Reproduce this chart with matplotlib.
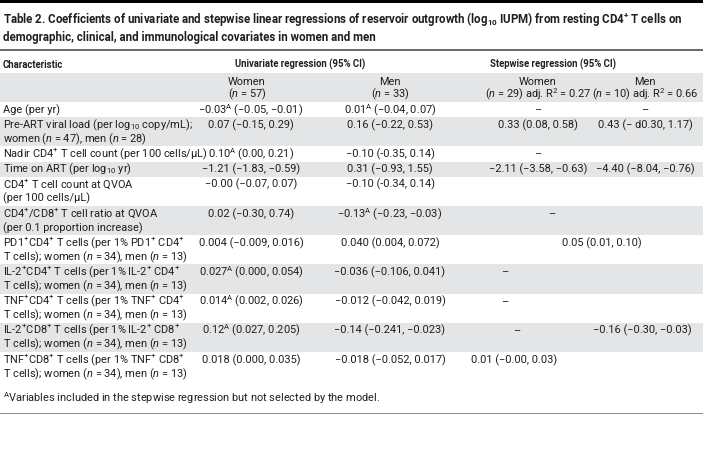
import matplotlib
matplotlib.use("Agg")
import matplotlib.pyplot as plt
import matplotlib.font_manager as fm
from matplotlib.patches import Rectangle

# ---------------- data ----------------
title_lines = [
    r"Table 2. Coefficients of univariate and stepwise linear regressions of reservoir outgrowth (log$_{\mathbf{10}}$ IUPM) from resting CD4$^{\mathbf{+}}$ T cells on",
    "demographic, clinical, and immunological covariates in women and men",
]
header_char = "Characteristic"
header_groups = ["Univariate regression (95% CI)", "Stepwise regression (95% CI)"]
sub_headers = [
    ["Women", "($n$ = 57)"],
    ["Men", "($n$ = 33)"],
    ["Women", r"($n$ = 29) adj. R$^{2}$ = 0.27"],
    ["Men", r"($n$ = 10) adj. R$^{2}$ = 0.66"],
]
characteristics = [
    "Age (per yr)",
    "Pre-ART viral load (per log$_{10}$ copy/mL);\nwomen ($n$ = 47), men ($n$ = 28)",
    "Nadir CD4$^{+}$ T cell count (per 100 cells/μL)",
    "Time on ART (per log$_{10}$ yr)",
    "CD4$^{+}$ T cell count at QVOA\n(per 100 cells/μL)",
    "CD4$^{+}$/CD8$^{+}$ T cell ratio at QVOA\n(per 0.1 proportion increase)",
    "PD1$^{+}$CD4$^{+}$ T cells (per 1% PD1$^{+}$ CD4$^{+}$\nT cells); women ($n$ = 34), men ($n$ = 13)",
    "IL-2$^{+}$CD4$^{+}$ T cells (per 1% IL-2$^{+}$ CD4$^{+}$\nT cells); women ($n$ = 34), men ($n$ = 13)",
    "TNF$^{+}$CD4$^{+}$ T cells (per 1% TNF$^{+}$ CD4$^{+}$\nT cells); women ($n$ = 34), men ($n$ = 13)",
    "IL-2$^{+}$CD8$^{+}$ T cells (per 1% IL-2$^{+}$ CD8$^{+}$\nT cells); women ($n$ = 34), men ($n$ = 13)",
    "TNF$^{+}$CD8$^{+}$ T cells (per 1% TNF$^{+}$ CD8$^{+}$\nT cells); women ($n$ = 34), men ($n$ = 13)",
]
A = r"$^{\mathrm{A}}$"
women_univariate = [
    "−0.03" + A + " (−0.05, −0.01)",
    "0.07 (−0.15, 0.29)",
    "0.10" + A + " (0.00, 0.21)",
    "−1.21 (−1.83, −0.59)",
    "−0.00 (−0.07, 0.07)",
    "0.02 (−0.30, 0.74)",
    "0.004 (−0.009, 0.016)",
    "0.027" + A + " (0.000, 0.054)",
    "0.014" + A + " (0.002, 0.026)",
    "0.12" + A + " (0.027, 0.205)",
    "0.018 (0.000, 0.035)",
]
men_univariate = [
    "0.01" + A + " (−0.04, 0.07)",
    "0.16 (−0.22, 0.53)",
    "−0.10 (-0.35, 0.14)",
    "0.31 (−0.93, 1.55)",
    "−0.10 (-0.34, 0.14)",
    "−0.13" + A + " (−0.23, −0.03)",
    "0.040 (0.004, 0.072)",
    "−0.036 (−0.106, 0.041)",
    "−0.012 (−0.042, 0.019)",
    "−0.14 (−0.241, −0.023)",
    "−0.018 (−0.052, 0.017)",
]
women_stepwise = [
    "–",
    "0.33 (0.08, 0.58)",
    "–",
    "−2.11 (−3.58, −0.63)",
    "",
    "–",
    "",
    "–",
    "–",
    "–",
    "0.01 (−0.00, 0.03)",
]
men_stepwise = [
    "–",
    "0.43 (− d0.30, 1.17)",
    "",
    "−4.40 (−8.04, −0.76)",
    "",
    "",
    "0.05 (0.01, 0.10)",
    "",
    "",
    "−0.16 (−0.30, −0.03)",
    "",
]
footnote = r"$^{\mathrm{A}}$Variables included in the stepwise regression but not selected by the model."


# ---------------- style / layout ----------------
def has_font(name):
    try:
        fm.findfont(fm.FontProperties(family=name), fallback_to_default=False)
        return True
    except Exception:
        return False


FONT = "Liberation Sans Narrow" if has_font("Liberation Sans Narrow") else "Roboto"
plt.rcParams["font.family"] = [FONT, "DejaVu Sans"]
plt.rcParams["mathtext.fontset"] = "custom"
plt.rcParams["mathtext.rm"] = FONT
plt.rcParams["mathtext.it"] = FONT + ":italic"
plt.rcParams["mathtext.bf"] = FONT + ":bold"

W, H = 703, 467
fig = plt.figure(figsize=(W / 100, H / 100), dpi=100)
ax = fig.add_axes([0, 0, 1, 1])
ax.set_xlim(0, W)
ax.set_ylim(H, 0)
ax.axis("off")

renderer = fig.canvas.get_renderer()


def width_at(s, size, weight="normal"):
    t = ax.text(0, 0, s, fontsize=size, fontweight=weight)
    w = t.get_window_extent(renderer).width
    t.remove()
    return w


# fit font sizes to widths measured on the reference
BODY = 10 * 205 / width_at(characteristics[2], 10)
TITLE = 10 * 679 / width_at(title_lines[0], 10, "bold")
HEAD = 10 * 130 / width_at(header_groups[0], 10, "bold")

TXT = "#1f1f1f"
GRAY = "#e4e5e6"
head_x = [247, 390, 538, 645]
col_x = [251, 390, 538, 645]
# per-cell horizontal position overrides (row, col) -> x centre
cell_x = {(5, 2): 552, (6, 3): 602, (7, 2): 505, (8, 2): 505,
          (9, 2): 517, (9, 3): 642, (10, 2): 514}


def put(x, yc, s, size=None, weight="normal", ha="left"):
    ax.text(x, yc + 3.7, s, fontsize=size or BODY, fontweight=weight, ha=ha,
            va="baseline", color=TXT)


# top bar and rules
ax.add_patch(Rectangle((0, 0), W, 3.2, color="black", lw=0))
ax.add_patch(Rectangle((0, 49), W, 1.6, color="#6b6b6b", lw=0))
ax.add_patch(Rectangle((0, 412.5), W, 1.6, color="#8a8a8a", lw=0))

# title
put(3, 19, title_lines[0], size=TITLE, weight="bold")
put(3, 37, title_lines[1], size=TITLE, weight="bold")

# header
put(3, 64, header_char, size=HEAD, weight="bold")
put(300, 64, header_groups[0], size=HEAD, weight="bold", ha="center")
put(553, 64, header_groups[1], size=HEAD, weight="bold", ha="center")

# subheader band
ax.add_patch(Rectangle((0, 73), W, 29, color=GRAY, lw=0))
for cx, (l1, l2) in zip(head_x, sub_headers):
    put(cx, 81, l1, ha="center")
    put(cx, 94, l2, ha="center")

# body rows
pitch = 14.0
pad = 1.2
top = 102.0
columns = [women_univariate, men_univariate, women_stepwise, men_stepwise]
for i, label in enumerate(characteristics):
    lines = label.split("\n")
    h = len(lines) * pitch + pad
    if i % 2 == 1:
        ax.add_patch(Rectangle((0, top), W, h, color=GRAY, lw=0))
    yc = top + 7.4
    for k, ln in enumerate(lines):
        put(3, yc + k * pitch, ln)
    for j, col in enumerate(columns):
        s = col[i]
        if s:
            put(cell_x.get((i, j), col_x[j]), yc, s, ha="center")
    top += h

put(3, 398, footnote)

fig.savefig("out.png", dpi=100)
